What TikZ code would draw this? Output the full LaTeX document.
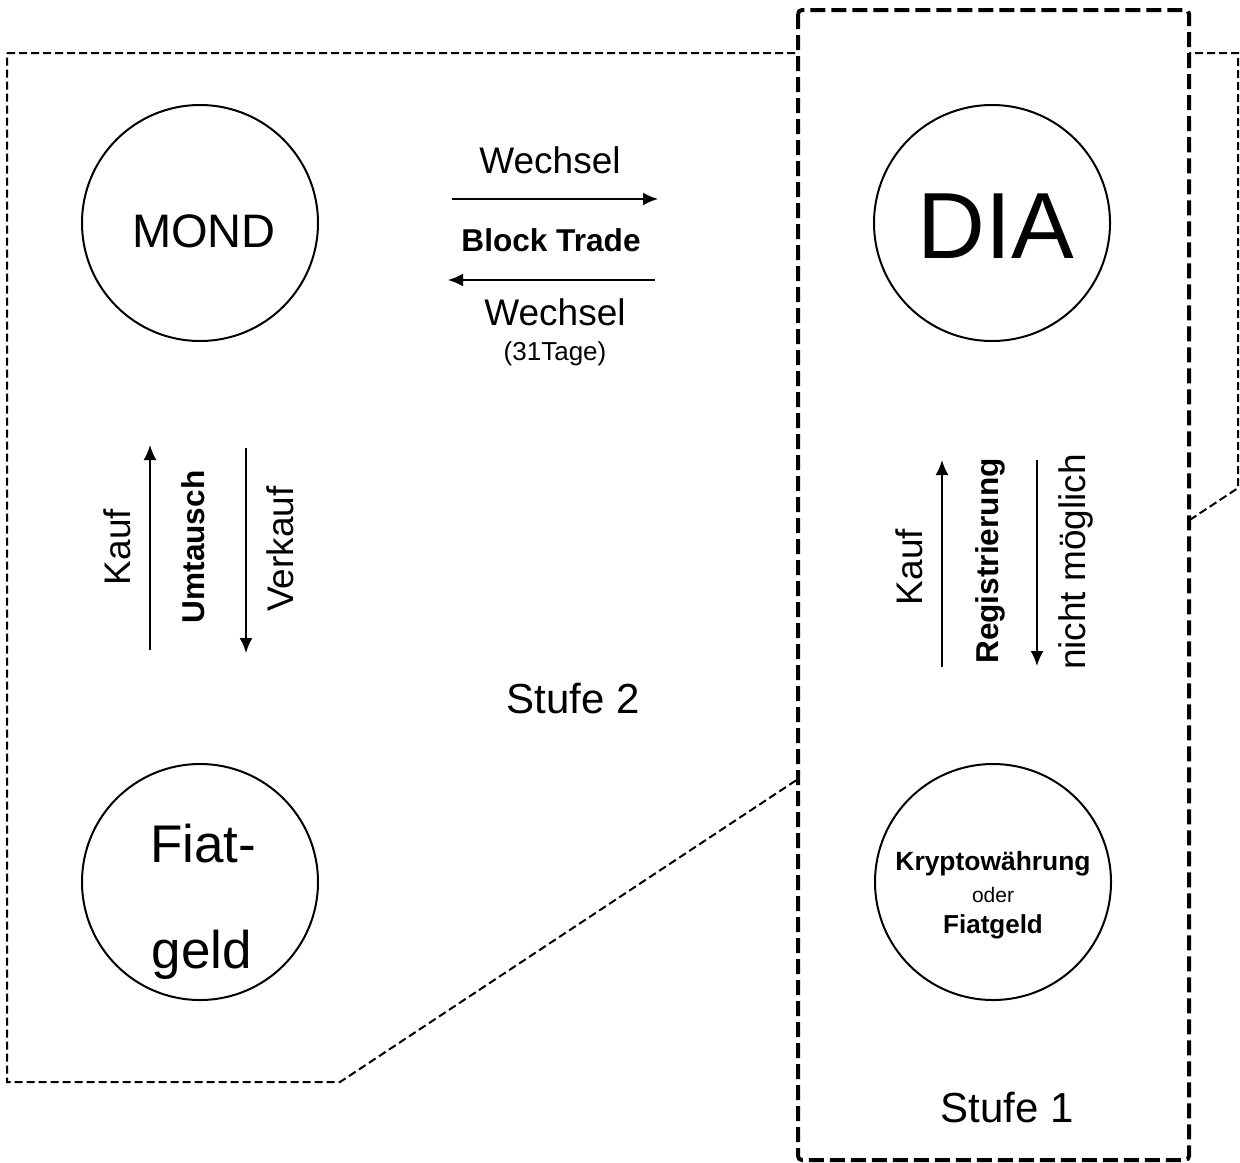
\documentclass[tikz,border=0pt]{standalone}
\usepackage{fontspec}
\setmainfont{Liberation Sans}
\usetikzlibrary{arrows.meta}

\begin{document}
\begin{tikzpicture}[x=0.5pt, y=-0.5pt,
  ring/.style={circle, black, draw, line width=1pt, minimum size=118pt, inner sep=0pt},
  lbl/.style={inner sep=0pt, anchor=base, font=\fontsize{18.5}{22}\selectfont},
  strong/.style={inner sep=0pt, anchor=base, font=\fontsize{15.8}{19}\selectfont\bfseries},
  flow/.style={-{Latex[length=7.5pt, width=6.5pt]}, line width=1pt}]

\useasboundingbox (0,0) rectangle (1240,1162);

% Stufe 2
\draw[line width=1pt, dash pattern=on 4pt off 2pt]
  (7,53) -- (1238,53) -- (1238,488) -- (340,1082) -- (7,1082) -- cycle;
% Stufe 1
\draw[line width=2pt, dash pattern=on 7.5pt off 3pt, fill=white, rounded corners=2pt]
  (798,10) rectangle (1189,1160);

\draw
(200,223) node[ring](mond){}
(992,223) node[ring](dia){}
(200,882) node[ring](fiat){}
(993,882) node[ring](krypto){};

\draw
(204,247) node[lbl, font=\fontsize{23.5}{28}\selectfont](mondtxt){MOND}
(996,258) node[lbl, font=\fontsize{47}{56}\selectfont](diatxt){DIA}
(203,862) node[lbl, font=\fontsize{26.5}{32}\selectfont](fiattop){Fiat-}
(202,968) node[lbl, font=\fontsize{26.5}{32}\selectfont](fiatbot){geld}
(993,870) node[strong, font=\fontsize{13.2}{16}\selectfont\bfseries](kryptotxt){Kryptowährung}
(993,902) node[lbl, font=\fontsize{10.5}{13}\selectfont](odertxt){oder}
(993,933) node[strong, font=\fontsize{13}{16}\selectfont\bfseries](fiatgeldtxt){Fiatgeld}
(550,173) node[lbl](wechselhin){Wechsel}
(551,251) node[strong](blocktrade){Block Trade}
(555,325) node[lbl](wechselrueck){Wechsel}
(555,360) node[lbl, font=\fontsize{13}{16}\selectfont](tage){(31Tage)}
(573,713) node[lbl, font=\fontsize{21}{25}\selectfont](stufezwei){Stufe 2}
(1007,1122) node[lbl, font=\fontsize{21}{25}\selectfont](stufeeins){Stufe 1}
(130,547) node[lbl, rotate=90](kaufl){Kauf}
(204,547) node[strong, rotate=90](umtausch){Umtausch}
(293,549) node[lbl, rotate=90](verkauf){Verkauf}
(922,567) node[lbl, rotate=90](kaufr){Kauf}
(998,561) node[strong, rotate=90](registrierung){Registrierung}
(1085,562) node[lbl, rotate=90](nichtmoeglich){nicht möglich};

\coordinate (wa) at (452,199);
\coordinate (wb) at (658,199);
\coordinate (ba) at (655,280);
\coordinate (bb) at (448,280);
\coordinate (ka) at (150,650);
\coordinate (kb) at (150,445);
\coordinate (va) at (246,448);
\coordinate (vb) at (246,653);
\coordinate (ra) at (942,667);
\coordinate (rb) at (942,460);
\coordinate (na) at (1037,460);
\coordinate (nb) at (1037,666);

\draw[flow] (wa) -- (wb);
\draw[flow] (ba) -- (bb);
\draw[flow] (ka) -- (kb);
\draw[flow] (va) -- (vb);
\draw[flow] (ra) -- (rb);
\draw[flow] (na) -- (nb);

\end{tikzpicture}
\end{document}
